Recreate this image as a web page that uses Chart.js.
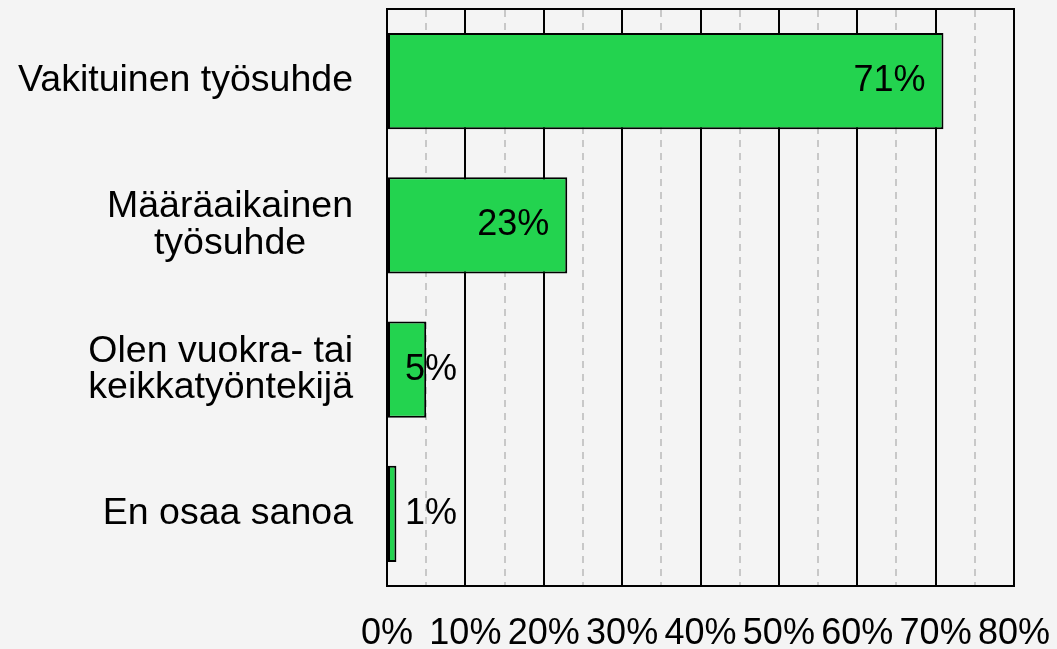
<!DOCTYPE html>
<html>
<head>
<meta charset="utf-8">
<script src="https://cdn.jsdelivr.net/npm/chart.js@4/dist/chart.umd.min.js"></script>
<style>
  html, body { margin: 0; padding: 0; background: #f4f4f4; }
  #wrap { width: 1057px; height: 649px; }
</style>
</head>
<body>
<div id="wrap"><canvas id="c" width="1057" height="649"></canvas></div>
<script>
const categories = [
  ['Vakituinen työsuhde'],
  ['Määräaikainen', 'työsuhde'],
  ['Olen vuokra- tai', 'keikkatyöntekijä'],
  ['En osaa sanoa']
];
const values = [71, 23, 5, 1.2];
const valueLabels = ['71%', '23%', '5%', '1%'];
const xTickValues = [0, 10, 20, 30, 40, 50, 60, 70, 80];

const FONT = '"Liberation Sans", Arial, sans-serif';
const FS = 36;
const CAT_FS = 37.5;

const labelPlugin = {
  id: 'customLabels',
  afterDatasetsDraw(chart) {
    const ctx = chart.ctx;
    const y = chart.scales.y;
    ctx.save();
    ctx.fillStyle = '#000';
    ctx.textBaseline = 'middle';
    ctx.font = CAT_FS + 'px ' + FONT;
    const lh = 36.7;
    const rightEdge = 353;
    categories.forEach((lines, i) => {
      const yc = y.getPixelForTick(i);
      const W = Math.max(...lines.map(l => ctx.measureText(l).width));
      const cx = rightEdge - W / 2;
      ctx.textAlign = 'center';
      lines.forEach((l, j) => {
        ctx.fillText(l, cx, yc + (j - (lines.length - 1) / 2) * lh);
      });
    });
    ctx.font = FS + 'px ' + FONT;
    const meta = chart.getDatasetMeta(0);
    meta.data.forEach((bar, i) => {
      const txt = valueLabels[i];
      const w = ctx.measureText(txt).width;
      const bw = bar.x - bar.base;
      if (bw >= w + 36) {
        ctx.textAlign = 'right';
        ctx.fillText(txt, bar.x - 18, bar.y);
      } else {
        ctx.textAlign = 'left';
        ctx.fillText(txt, bar.base + 17, bar.y);
      }
    });
    ctx.restore();
  }
};

new Chart(document.getElementById('c'), {
  type: 'bar',
  data: {
    labels: categories,
    datasets: [{
      data: values,
      backgroundColor: '#23d34f',
      borderColor: '#000',
      borderWidth: 2,
      borderSkipped: false,
      barPercentage: 0.667,
      categoryPercentage: 1.0
    }]
  },
  options: {
    indexAxis: 'y',
    responsive: false,
    animation: false,
    layout: { padding: { top: 9, right: 43, left: 0, bottom: 0 } },
    plugins: { legend: { display: false }, tooltip: { enabled: false } },
    scales: {
      y: {
        position: 'left',
        grid: { display: false, drawTicks: false },
        border: { display: true, color: '#000', width: 2 },
        ticks: { display: false },
        afterFit(scale) { scale.width = 387; }
      },
      x: {
        position: 'bottom',
        min: 0, max: 80,
        afterBuildTicks(scale) { scale.ticks = xTickValues.map(v => ({ value: v })); },
        grid: { color: '#000', lineWidth: 2, drawTicks: false },
        border: { display: true, color: '#000', width: 2 },
        ticks: {
          autoSkip: false, maxRotation: 0, padding: 26,
          color: '#000',
          font: { family: FONT, size: FS },
          callback: v => v + '%'
        },
        afterFit(scale) { scale.height = 63; scale.paddingLeft = 0; scale.paddingRight = 0; }
      },
      x2: {
        position: 'top',
        min: 0, max: 80,
        ticks: { display: false, stepSize: 5 },
        grid: {
          drawTicks: false,
          lineWidth: 2,
          color: c => (c.tick && c.tick.value % 10 !== 0) ? '#c8c8c8' : 'rgba(0,0,0,0)'
        },
        border: { display: true, color: '#000', width: 2, dash: [7, 6] },
        afterFit(scale) { scale.height = 0; scale.paddingLeft = 0; scale.paddingRight = 0; }
      }
    }
  },
  plugins: [labelPlugin]
});
</script>
</body>
</html>
